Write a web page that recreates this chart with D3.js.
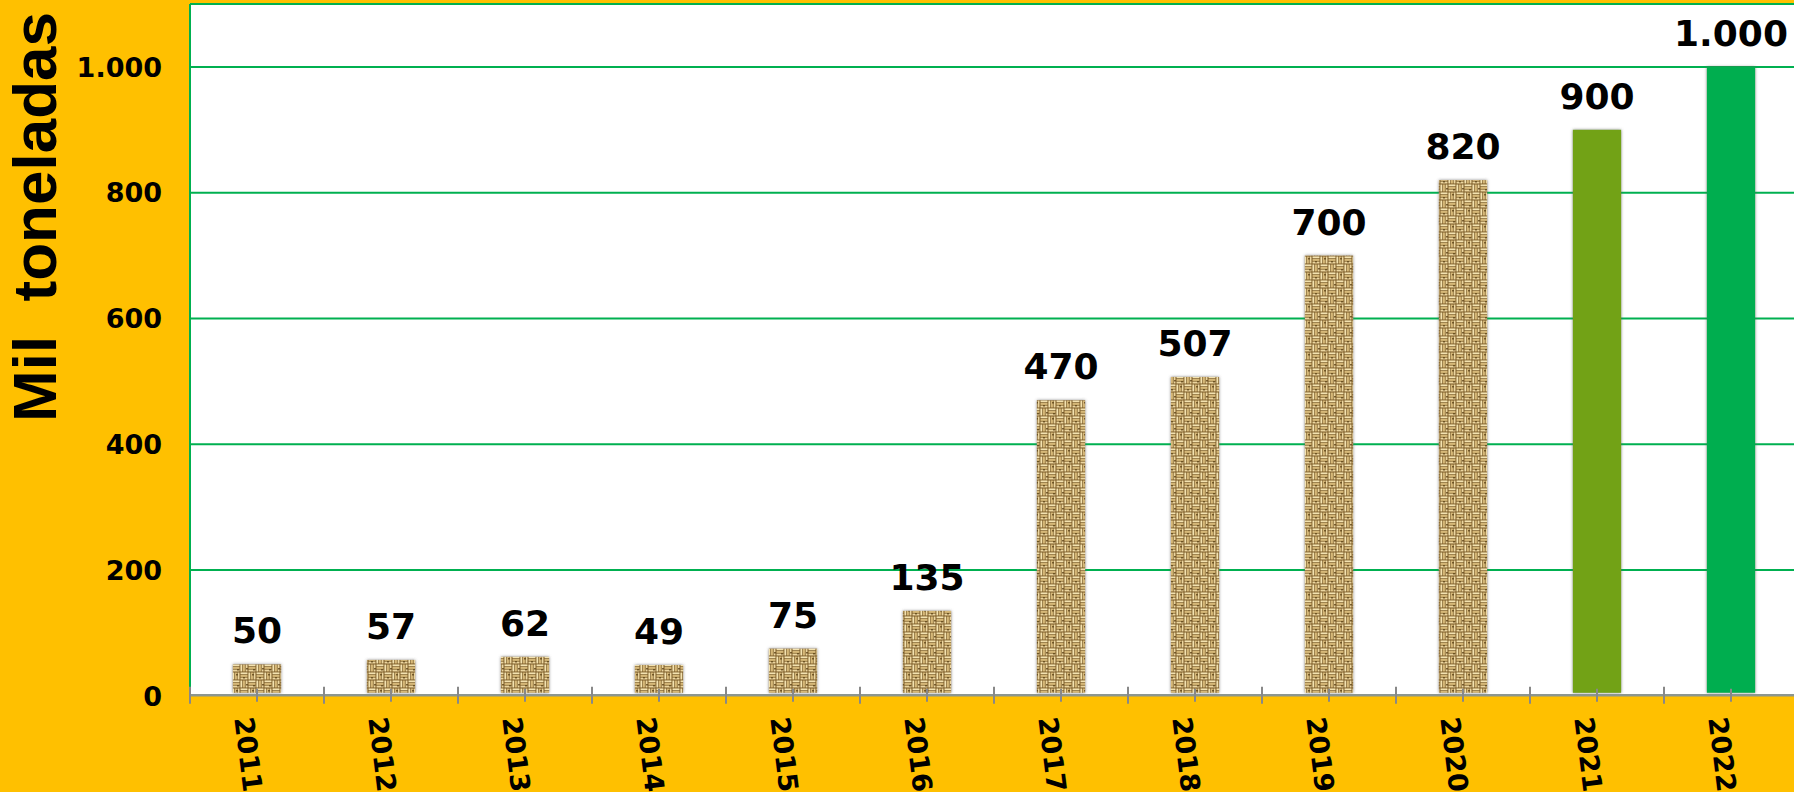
<!DOCTYPE html>
<html>
<head>
<meta charset="utf-8">
<script src="https://cdn.jsdelivr.net/npm/d3@7"></script>
<style>
  body { margin: 0; background: #ffc000; }
  svg { display: block; }
</style>
</head>
<body>
<svg id="chart"></svg>
<script>
// chart data
var years = ["2011", "2012", "2013", "2014", "2015", "2016", "2017", "2018", "2019", "2020", "2021", "2022"];
var values = [50, 57, 62, 49, 75, 135, 470, 507, 700, 820, 900, 1000];
// fill kind per bar: texture for real data, plain colours for the last two
var fills = ["tex", "tex", "tex", "tex", "tex", "tex", "tex", "tex", "tex", "tex", "#72a213", "#00ae4f"];
var yTicks = [0, 200, 400, 600, 800, 1000];
var yTitle = "Mil  toneladas";

var width = 1794, height = 792;
// note: "top" is taken by window.top, so plot edges get their own names
var plotLeft = 190, plotTop = 4, plotBottom = 695.8, plotRight = 1798;

var svg = d3.select("#chart")
    .attr("width", width)
    .attr("height", height);

// spanish style numbers: 1.000
var locale = d3.formatLocale({decimal: ",", thousands: ".", grouping: [3], currency: ["", ""]});
var fmt = locale.format(",d");

var x = d3.scaleBand().domain(years).range([plotLeft, plotRight]).paddingInner(0.64).paddingOuter(0.32);
var xStep = x.step();
var y = d3.scaleLinear().domain([0, 1100]).range([plotBottom, plotTop]);

var defs = svg.append("defs");

// burlap like weave texture, 16px tile in four 8px quadrants
var pat = defs.append("pattern")
    .attr("id", "weave")
    .attr("patternUnits", "userSpaceOnUse")
    .attr("width", 16).attr("height", 16);
pat.append("rect").attr("width", 16).attr("height", 16).attr("fill", "#7a5a26");
var strips = ["#f3e2b0", "#d6b878", "#ecd6a0"];
// horizontal strips in two quadrants, vertical in the other two
[[0, 0], [8, 8]].forEach(function(q) {
    strips.forEach(function(c, k) {
        pat.append("rect").attr("x", q[0] + 0.5).attr("y", q[1] + 0.4 + k * 2.6)
            .attr("width", 7).attr("height", 1.9).attr("fill", c);
    });
});
[[8, 0], [0, 8]].forEach(function(q) {
    strips.forEach(function(c, k) {
        pat.append("rect").attr("x", q[0] + 0.4 + k * 2.6).attr("y", q[1] + 0.5)
            .attr("width", 1.9).attr("height", 7).attr("fill", c);
    });
});
// a few darker knots
[[3, 5], [12, 2], [6, 12], [13, 13]].forEach(function(p) {
    pat.append("rect").attr("x", p[0]).attr("y", p[1]).attr("width", 2).attr("height", 1.5)
        .attr("fill", "#5e4318").attr("opacity", 0.8);
});

// soft grey edge round the bars
var filt = defs.append("filter").attr("id", "soft")
    .attr("x", "-20%").attr("y", "-20%").attr("width", "140%").attr("height", "140%");
filt.append("feDropShadow")
    .attr("dx", 0).attr("dy", 0)
    .attr("stdDeviation", 1.6)
    .attr("flood-color", "#555")
    .attr("flood-opacity", 0.7);

// white plot area
svg.append("rect")
    .attr("x", plotLeft).attr("y", plotTop)
    .attr("width", plotRight - plotLeft).attr("height", plotBottom - plotTop)
    .attr("fill", "#ffffff");

// gridlines
svg.append("g")
    .selectAll("line")
    .data(yTicks.filter(function(d) { return d > 0; }))
    .enter()
    .append("line")
    .attr("x1", plotLeft).attr("x2", plotRight)
    .attr("y1", function(d) { return y(d); })
    .attr("y2", function(d) { return y(d); })
    .attr("stroke", "#00b050")
    .attr("stroke-width", 2);

// plot border, top and left
svg.append("line")
    .attr("x1", plotLeft).attr("x2", plotRight)
    .attr("y1", y(1100)).attr("y2", y(1100))
    .attr("stroke", "#00b050").attr("stroke-width", 2);
svg.append("line")
    .attr("x1", plotLeft).attr("x2", plotLeft)
    .attr("y1", y(1100)).attr("y2", plotBottom)
    .attr("stroke", "#00b050").attr("stroke-width", 2);

// bars
svg.append("g")
    .selectAll("rect")
    .data(values)
    .enter()
    .append("rect")
    .attr("x", function(d, i) { return x(years[i]); })
    .attr("y", function(d) { return y(d); })
    .attr("width", x.bandwidth())
    .attr("height", function(d) { return plotBottom - 3 - y(d); })
    .attr("fill", function(d, i) { return fills[i] == "tex" ? "url(#weave)" : fills[i]; })
    .attr("filter", "url(#soft)");

// value labels
svg.append("g")
    .selectAll("text")
    .data(values)
    .enter()
    .append("text")
    .text(function(d) { return fmt(d); })
    .attr("x", function(d, i) { return x(years[i]) + x.bandwidth() / 2; })
    .attr("y", function(d) { return y(d) - 21; })
    .attr("text-anchor", "middle")
    .attr("font-family", "DejaVu Sans")
    .attr("font-weight", "bold")
    .attr("font-size", 36)
    .attr("fill", "#000");

// x axis line and crossing ticks
var axis = svg.append("g");
axis.append("line")
    .attr("x1", plotLeft).attr("x2", plotRight)
    .attr("y1", plotBottom - 0.5).attr("y2", plotBottom - 0.5)
    .attr("stroke", "#8c9690").attr("stroke-width", 2.5);
// ticks at category centres
axis.selectAll(".tc")
    .data(years)
    .enter()
    .append("line")
    .attr("x1", function(d) { return x(d) + x.bandwidth() / 2; })
    .attr("x2", function(d) { return x(d) + x.bandwidth() / 2; })
    .attr("y1", plotBottom - 7).attr("y2", plotBottom + 6)
    .attr("stroke", "#888").attr("stroke-width", 2);
// ticks at category edges
axis.selectAll(".te")
    .data(years)
    .enter()
    .append("line")
    .attr("x1", function(d) { return x(d) + x.bandwidth() / 2 - xStep / 2; })
    .attr("x2", function(d) { return x(d) + x.bandwidth() / 2 - xStep / 2; })
    .attr("y1", plotBottom - 9).attr("y2", plotBottom + 8)
    .attr("stroke", "#888").attr("stroke-width", 2);

// year labels, nearly vertical
svg.append("g")
    .selectAll("text")
    .data(years)
    .enter()
    .append("text")
    .text(function(d) { return d; })
    .attr("transform", function(d) {
        var cx = x(d) + x.bandwidth() / 2 - 13;
        return "translate(" + cx + "," + 717 + ") rotate(83)";
    })
    .attr("dy", "0.36em")
    .attr("font-family", "DejaVu Sans")
    .attr("font-weight", "bold")
    .attr("font-size", 27)
    .attr("fill", "#000");

// y tick labels
svg.append("g")
    .selectAll("text")
    .data(yTicks)
    .enter()
    .append("text")
    .text(function(d) { return fmt(d); })
    .attr("x", 162)
    .attr("y", function(d) { return y(d); })
    .attr("dy", "0.36em")
    .attr("text-anchor", "end")
    .attr("font-family", "DejaVu Sans")
    .attr("font-weight", "bold")
    .attr("font-size", 27)
    .attr("fill", "#000");

// y axis title
svg.append("text")
    .text(yTitle)
    .attr("transform", "translate(56,217) rotate(-90)")
    .attr("text-anchor", "middle")
    .attr("font-family", "Liberation Sans")
    .attr("font-weight", "bold")
    .attr("font-size", 62)
    .attr("fill", "#000")
    .style("white-space", "pre");
</script>
</body>
</html>
